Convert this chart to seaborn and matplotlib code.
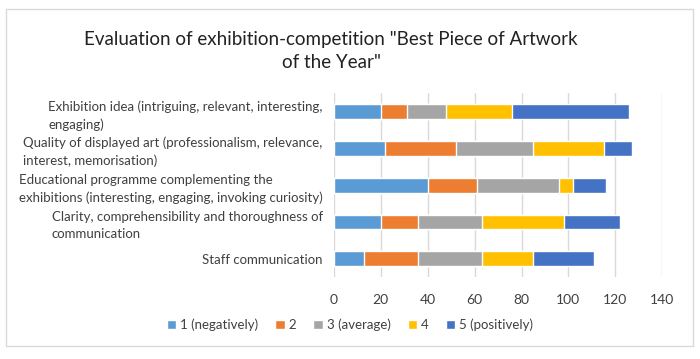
import pandas as pd
import matplotlib.pyplot as plt
import seaborn as sns
from matplotlib.patches import Rectangle

# Data
categories = [
    "Exhibition idea (intriguing, relevant, interesting,\nengaging)",
    "Quality of displayed art (professionalism, relevance,\ninterest, memorisation)",
    "Educational programme complementing the\nexhibitions (interesting, engaging, invoking curiosity)",
    "Clarity, comprehensibility and thoroughness of\ncommunication",
    "Staff communication",
]
series_names = ["1 (negatively)", "2", "3 (average)", "4", "5 (positively)"]
score_1 = [20, 22, 40, 20, 13]
score_2 = [11, 30, 21, 16, 23]
score_3 = [17, 33, 35, 27, 27]
score_4 = [28, 30, 6, 35, 22]
score_5 = [50, 12, 14, 24, 26]
colors = ["#5B9BD5", "#ED7D31", "#A5A5A5", "#FFC000", "#4472C4"]

df = pd.DataFrame({"Category": categories,
                   series_names[0]: score_1, series_names[1]: score_2,
                   series_names[2]: score_3, series_names[3]: score_4,
                   series_names[4]: score_5})
cum = df[series_names].cumsum(axis=1)
cum["Category"] = df["Category"]

sns.set_style("white")
plt.rcParams['font.family'] = ['Lato', 'DejaVu Sans']

fig = plt.figure(figsize=(7.0, 3.59), dpi=100)
ax = fig.add_axes([0.477, 0.228, 0.469, 0.512])

# draw cumulative totals from the last series back so they stack
for name, color in reversed(list(zip(series_names, colors))):
    sns.barplot(data=cum, x=name, y="Category", color=color, width=0.4,
                saturation=1, ax=ax, label=name, zorder=3)

ax.set_xlim(0, 140)
ax.set_xticks(range(0, 141, 20))
ax.set_xlabel("")
ax.set_ylabel("")
ax.grid(axis="x", color="#D9D9D9", linewidth=1, zorder=0)
for s in ax.spines.values():
    s.set_visible(False)
ax.tick_params(axis="x", length=0, pad=12, labelsize=10, colors="#404040")
ax.tick_params(axis="y", length=0, pad=8, labelsize=9.5, colors="#404040")
for lbl in ax.get_yticklabels():
    lbl.set_multialignment("left")
    lbl.set_linespacing(1.5)

handles, labels = ax.get_legend_handles_labels()
order = [labels.index(n) for n in series_names]
ax.legend([handles[i] for i in order], series_names, loc="center",
          bbox_to_anchor=(0.5, 0.095), bbox_transform=fig.transFigure,
          ncol=5, frameon=False, fontsize=9.5, handlelength=0.7,
          handleheight=0.7, columnspacing=1.3, handletextpad=0.3,
          labelcolor="#404040")

fig.text(0.473, 0.857, 'Evaluation of exhibition-competition "Best Piece of Artwork\nof the Year"',
         ha="center", va="center", fontsize=13.5, color="#222222",
         linespacing=1.45)

fig.patches.append(Rectangle((0.008, 0.035), 0.982, 0.94, transform=fig.transFigure,
                             fill=False, edgecolor="#D9D9D9", linewidth=1))

fig.savefig("out.png", dpi=100)
